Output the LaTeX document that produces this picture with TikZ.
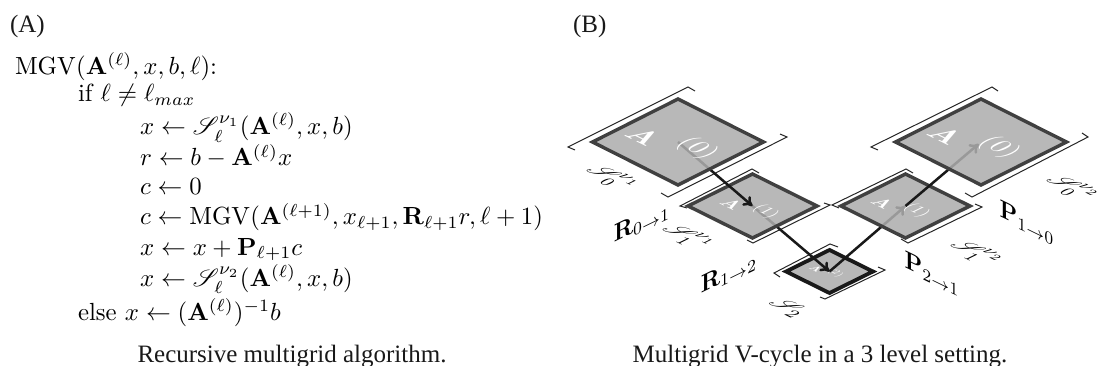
\documentclass[tikz,border=0pt]{standalone}
\usepackage{amsmath,amssymb,mathrsfs,graphicx}
\usepackage[no-math]{fontspec}
\newfontfamily\capfont{Liberation Serif}
\usetikzlibrary{shapes.geometric,arrows.meta}
\definecolor{diafill}{gray}{0.68}
\definecolor{diaedge}{gray}{0.25}
\tikzset{
  algo/.style={anchor=base west,inner sep=0pt,outer sep=0pt,scale=2.48,text=black},
  captext/.style={inner sep=0pt,outer sep=0pt,font=\capfont\fontsize{25}{30}\selectfont,anchor=base,text=black!90},
  dia/.style={diamond,shape aspect=2,inner sep=0pt,outer sep=0pt,draw=diaedge,line width=3.4pt,fill=diafill,fill opacity=.87,draw opacity=1},
  flow/.style={line width=2.5pt,draw=black!90,-{Computer Modern Rightarrow[length=9pt,width=12pt]}},
  brk/.style={line width=1pt,draw=black!85,line join=miter},
  iso/.style={transform shape,inner sep=0pt,outer sep=0pt},
}
\newcommand\isotext[8]{\begin{scope}[shift={(#2,#3)},cm={#4,#5,#6,#7,(0,0)}]\node[iso] (#1) at (0,0) {#8};\end{scope}}
\newcommand\matA[2]{\scalebox{#1}{\color{white}$\mathbf{A}$\hspace{.4em}\raisebox{.68em}{\scalebox{.9}{$(#2)$}}}}
\begin{document}
\begin{tikzpicture}[x=1pt,y=-1pt]
\useasboundingbox (0,0) rectangle (1097,366);
% panel labels and captions
\node[captext,anchor=base west] (la) at (10,33) {(A)};
\node[captext,anchor=base west] (lb) at (573,33) {(B)};
\node[captext] (ca) at (292,362) {Recursive multigrid algorithm.};
\node[captext] (cb) at (820,362) {Multigrid V-cycle in a 3 level setting.};
% algorithm
\node[algo] (l1) at (15,75) {$\mathrm{MGV}(\mathbf{A}^{(\ell)},x,b,\ell)$:};
\node[algo] (l2) at (78,102) {if $\ell\neq\ell_{max}$};
\node[algo] (l3) at (140,135) {$x\leftarrow\mathscr{S}_\ell^{\nu_1}(\mathbf{A}^{(\ell)},x,b)$};
\node[algo] (l4) at (140,166) {$r\leftarrow b-\mathbf{A}^{(\ell)}x$};
\node[algo] (l5) at (140,194) {$c\leftarrow 0$};
\node[algo] (l6) at (140,225) {$c\leftarrow\mathrm{MGV}(\mathbf{A}^{(\ell+1)},x_{\ell+1},\mathbf{R}_{\ell+1}r,\ell+1)$};
\node[algo] (l7) at (140,255) {$x\leftarrow x+\mathbf{P}_{\ell+1}c$};
\node[algo] (l8) at (140,286) {$x\leftarrow\mathscr{S}_\ell^{\nu_2}(\mathbf{A}^{(\ell)},x,b)$};
\node[algo] (l9) at (78,320) {else $x\leftarrow(\mathbf{A}^{(\ell)})^{-1}b$};
% brackets
\draw[brk] (575,150)--(568,147)--(688,87)--(695,91);
\draw[brk] (661,193)--(668,197)--(787,137)--(780,134);
\draw[brk] (687,208)--(680,206)--(752,169)--(759,173);
\draw[brk] (747,240)--(753,243)--(830,205)--(824,203);
\draw[brk] (839,208)--(832,205)--(906,169)--(913,173);
\draw[brk] (901,239)--(908,243)--(982,207)--(975,204);
\draw[brk] (878,150)--(871,147)--(992,87)--(998,91);
\draw[brk] (965,193)--(972,197)--(1088,137)--(1082,133);
\draw[brk] (780,277)--(774,273)--(830,244)--(838,247);
\draw[brk] (820,297)--(825,299)--(885,270)--(878,267);
% level 2 and the arrows over it
\node[dia,draw=black!90,line width=3.8pt,minimum width=87pt,minimum height=43pt] (d2) at (829.5,271.5) {};
\coordinate (c0l) at (678,142);
\coordinate (c1l) at (752.5,206);
\coordinate (c1r) at (905.5,206);
\coordinate (c0r) at (981,142);
\isotext{t2}{827}{271}{.9}{-.44}{.9}{.44}{\matA{1.1}{2}}
\draw[flow] (c1l) -- (d2.center);
\draw[flow] (d2.center) -- (c1r);
% level 1 left
\node[dia,minimum width=129pt,minimum height=64pt] (d1l) at (c1l) {};
\isotext{t1l}{751}{208}{.9}{-.44}{.9}{.44}{\matA{1.9}{1}}
\draw[flow] (c0l) -- (d1l.center);
% level 1 right
\node[dia,minimum width=129pt,minimum height=64pt] (d1r) at (c1r) {};
\isotext{t1r}{902}{207}{.9}{-.44}{.9}{.44}{\matA{1.9}{1}}
\draw[flow,shorten >=3pt] (d1r.center) -- (c0r);
% level 0
\node[dia,minimum width=171pt,minimum height=86pt] (d0l) at (c0l) {};
\node[dia,minimum width=171pt,minimum height=86pt] (d0r) at (c0r) {};
\isotext{t0l}{674}{143}{.9}{-.44}{.9}{.44}{\matA{3}{0}}
\isotext{t0r}{976}{142}{.9}{-.44}{.9}{.44}{\matA{3}{0}}
% smoother labels
\isotext{s0l}{611}{178}{.9}{-.44}{.9}{.44}{\scalebox{2.4}{$\mathscr{S}_0^{\nu_1}$}}
\isotext{s1l}{687}{237}{.9}{-.44}{.9}{.44}{\scalebox{2.4}{$\mathscr{S}_1^{\nu_1}$}}
\isotext{s2}{788}{308}{.9}{-.44}{.9}{.44}{\scalebox{2.4}{$\mathscr{S}_2$}}
\isotext{s1r}{975}{253}{.9}{-.44}{.9}{.44}{\scalebox{2.4}{$\mathscr{S}_1^{\nu_2}$}}
\isotext{s0r}{1071}{188}{.9}{-.44}{.9}{.44}{\scalebox{2.4}{$\mathscr{S}_0^{\nu_2}$}}
% transfer labels
\isotext{r01}{642}{222}{.9}{.44}{0}{1}{\scalebox{2.5}{$\mathbf{R}_{0\to1}$}}
\isotext{r12}{729}{273}{.9}{.44}{0}{1}{\scalebox{2.5}{$\mathbf{R}_{1\to2}$}}
\isotext{p10}{1027}{223}{.9}{-.44}{0}{1}{\scalebox{2.5}{$\mathbf{P}_{1\to0}$}}
\isotext{p21}{932}{274}{.9}{-.44}{0}{1}{\scalebox{2.5}{$\mathbf{P}_{2\to1}$}}
\end{tikzpicture}
\end{document}
